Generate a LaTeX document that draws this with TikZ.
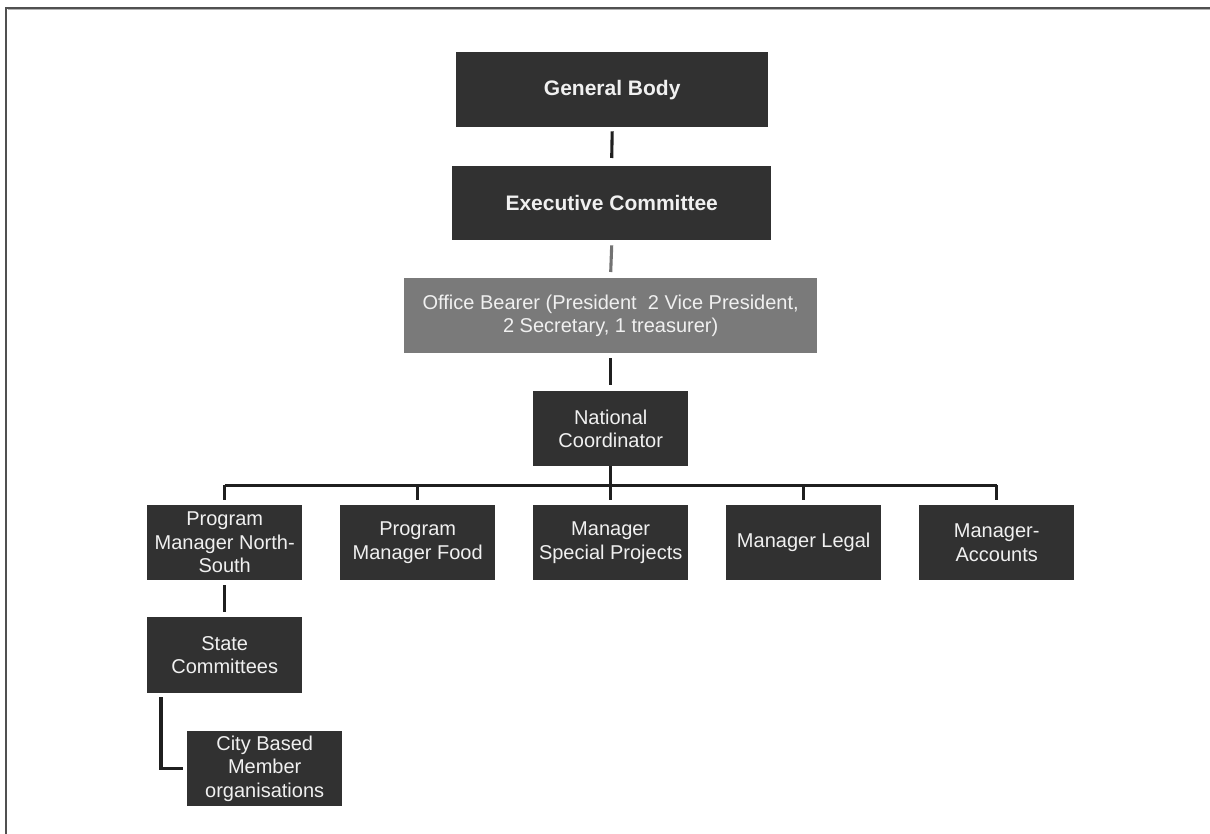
\documentclass[tikz,border=0pt]{standalone}
\usepackage{fontspec}
\setmainfont{Liberation Sans}
\usetikzlibrary{calc}
\definecolor{boxdark}{HTML}{313131}
\definecolor{boxgray}{HTML}{7A7A7A}
\definecolor{linedark}{HTML}{1F1F1F}
\definecolor{framec}{HTML}{505050}
\begin{document}
\begin{tikzpicture}[x=1pt,y=-1pt,
  box/.style={fill=boxdark,text=white!94!black,inner sep=2pt,align=center,anchor=north west,
    font=\fontsize{20}{23.5}\selectfont},
  conn/.style={draw=linedark,line width=3.1pt},
]
\useasboundingbox (0,0) rectangle (1210,834);
\fill[white] (0,0) rectangle (1210,834);
% frame
\draw[framec,line width=2pt] (6,834) -- (6,8) -- (1210,8);
\draw[black!30,line width=1pt] (7.5,10) -- (1210,10);
% nodes
\node[box,minimum width=312pt,minimum height=75pt,font=\fontsize{21}{24}\selectfont\bfseries] (gb) at (456,52) {General Body};
\node[box,minimum width=319pt,minimum height=74pt,font=\fontsize{21}{24}\selectfont\bfseries] (ec) at (452,166) {Executive Committee};
\node[box,fill=boxgray,minimum width=413pt,minimum height=75pt] (ob) at (404,278) {Office Bearer (President\ \ 2 Vice President,\\2 Secretary, 1 treasurer)};
\node[box,minimum width=155pt,minimum height=75pt] (nc) at (533,391) {National\\Coordinator};
\node[box,minimum width=155pt,minimum height=75pt] (p1) at (147,505) {Program\\Manager North-\\South};
\node[box,minimum width=155pt,minimum height=75pt] (p2) at (340,505) {Program\\Manager Food};
\node[box,minimum width=155pt,minimum height=75pt] (p3) at (533,505) {Manager\\Special Projects};
\node[box,minimum width=155pt,minimum height=75pt] (p4) at (726,505) {Manager Legal};
\node[box,minimum width=155pt,minimum height=75pt] (p5) at (919,505) {Manager-\\Accounts};
\node[box,minimum width=155pt,minimum height=76pt] (sc) at (147,617) {State\\Committees};
\node[box,minimum width=155pt,minimum height=75pt] (cb) at (187,731) {City Based\\Member\\organisations};
% connectors
\draw[conn] ([yshift=-4pt]gb.south) -- ([yshift=8pt]ec.north);
\draw[conn,draw=black!55] ([yshift=-5pt]ec.south) -- ([yshift=6pt]ob.north);
\draw[conn] ([yshift=-5pt]ob.south) -- ([yshift=6pt]nc.north);
\coordinate (bus) at ($(nc.south)+(0,19)$);
\draw[conn] (nc.south) -- (bus);
\draw[conn] (p1.north |- bus) -- (p5.north |- bus);
\foreach \n in {p1,p2,p3,p4,p5}{
  \draw[conn] (\n.north |- bus) -- ([yshift=5pt]\n.north);
}
\draw[conn] ([yshift=-5pt]p1.south) -- ([yshift=5pt]sc.north);
\draw[conn] ([xshift=14pt,yshift=-4pt]sc.south west) |- ([xshift=-4pt]cb.west);
\end{tikzpicture}
\end{document}
